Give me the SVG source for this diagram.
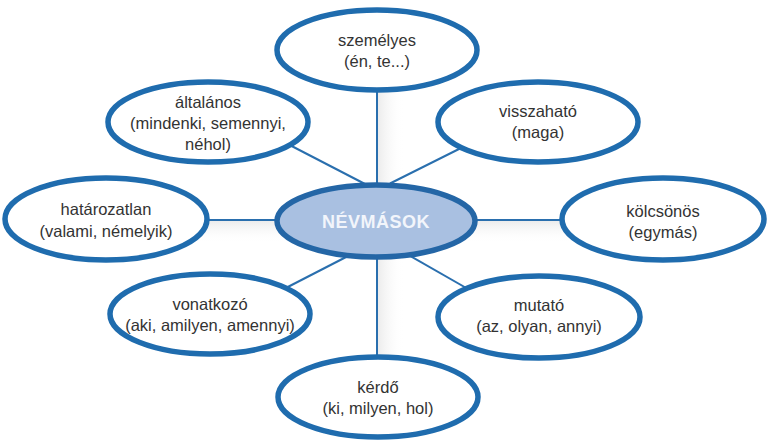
<svg xmlns="http://www.w3.org/2000/svg" width="770" height="441" viewBox="0 0 770 441">
<style>
.n{fill:#ffffff;stroke:#1f6cae;stroke-width:5.5}
.t{font-family:"Liberation Sans",Arial,sans-serif;font-size:16.5px;fill:#333333;text-anchor:middle}
.c line{stroke:#2a6fae;stroke-width:2}
</style>
<defs>
<linearGradient id="sv" x1="0" y1="0" x2="1" y2="0"><stop offset="0" stop-color="#ececec"/><stop offset="1" stop-color="#ffffff" stop-opacity="0"/></linearGradient>
<linearGradient id="sh" x1="0" y1="0" x2="0" y2="1"><stop offset="0" stop-color="#ececec"/><stop offset="1" stop-color="#ffffff" stop-opacity="0"/></linearGradient>
</defs>
<rect width="770" height="441" fill="#ffffff"/>
<rect x="378" y="40" width="26" height="370" fill="url(#sv)"/>
<rect x="90" y="221" width="590" height="22" fill="url(#sh)"/>
<g id="connectors" class="c">
<line x1="377" y1="60" x2="377" y2="390"/>
<line x1="110" y1="220" x2="655" y2="220"/>
<line x1="280" y1="140" x2="365" y2="184"/>
<line x1="390" y1="183.5" x2="470" y2="143.5"/>
<line x1="350" y1="255" x2="280" y2="291"/>
<line x1="405" y1="253" x2="475" y2="293"/>
</g>
<g id="n-szemelyes"><ellipse class="n" cx="377" cy="50" rx="100" ry="40"/><text class="t" x="377" y="46">személyes</text><text class="t" x="377" y="67">(én, te...)</text></g>
<g id="n-altalanos"><ellipse class="n" cx="208" cy="122" rx="100" ry="40"/><text class="t" x="208" y="108">általános</text><text class="t" x="208" y="129">(mindenki, semennyi,</text><text class="t" x="208" y="150">néhol)</text></g>
<g id="n-visszahato"><ellipse class="n" cx="538" cy="122" rx="100" ry="40"/><text class="t" x="538" y="117">visszaható</text><text class="t" x="538" y="138">(maga)</text></g>
<g id="n-hatarozatlan"><ellipse class="n" cx="106" cy="219" rx="101" ry="41"/><text class="t" x="106" y="215">határozatlan</text><text class="t" x="106" y="237">(valami, némelyik)</text></g>
<g id="n-kolcsonos"><ellipse class="n" cx="663" cy="219" rx="101" ry="41"/><text class="t" x="663" y="217">kölcsönös</text><text class="t" x="663" y="238">(egymás)</text></g>
<g id="n-vonatkozo"><ellipse class="n" cx="210" cy="314" rx="100" ry="40"/><text class="t" x="210" y="310">vonatkozó</text><text class="t" x="210" y="331">(aki, amilyen, amennyi)</text></g>
<g id="n-mutato"><ellipse class="n" cx="539" cy="317" rx="101" ry="41"/><text class="t" x="539" y="311">mutató</text><text class="t" x="539" y="332">(az, olyan, annyi)</text></g>
<g id="n-kerdo"><ellipse class="n" cx="378" cy="397" rx="100" ry="40"/><text class="t" x="378" y="393">kérdő</text><text class="t" x="378" y="414">(ki, milyen, hol)</text></g>
<g id="n-nevmasok"><ellipse cx="376" cy="221" rx="99" ry="36" fill="#a9c0e1" stroke="#2466a6" stroke-width="5.5"/><text x="376" y="228" font-family="Liberation Sans,Arial,sans-serif" font-size="18" font-weight="bold" letter-spacing="0.5" fill="#f2f5fb" text-anchor="middle">NÉVMÁSOK</text></g>
</svg>
